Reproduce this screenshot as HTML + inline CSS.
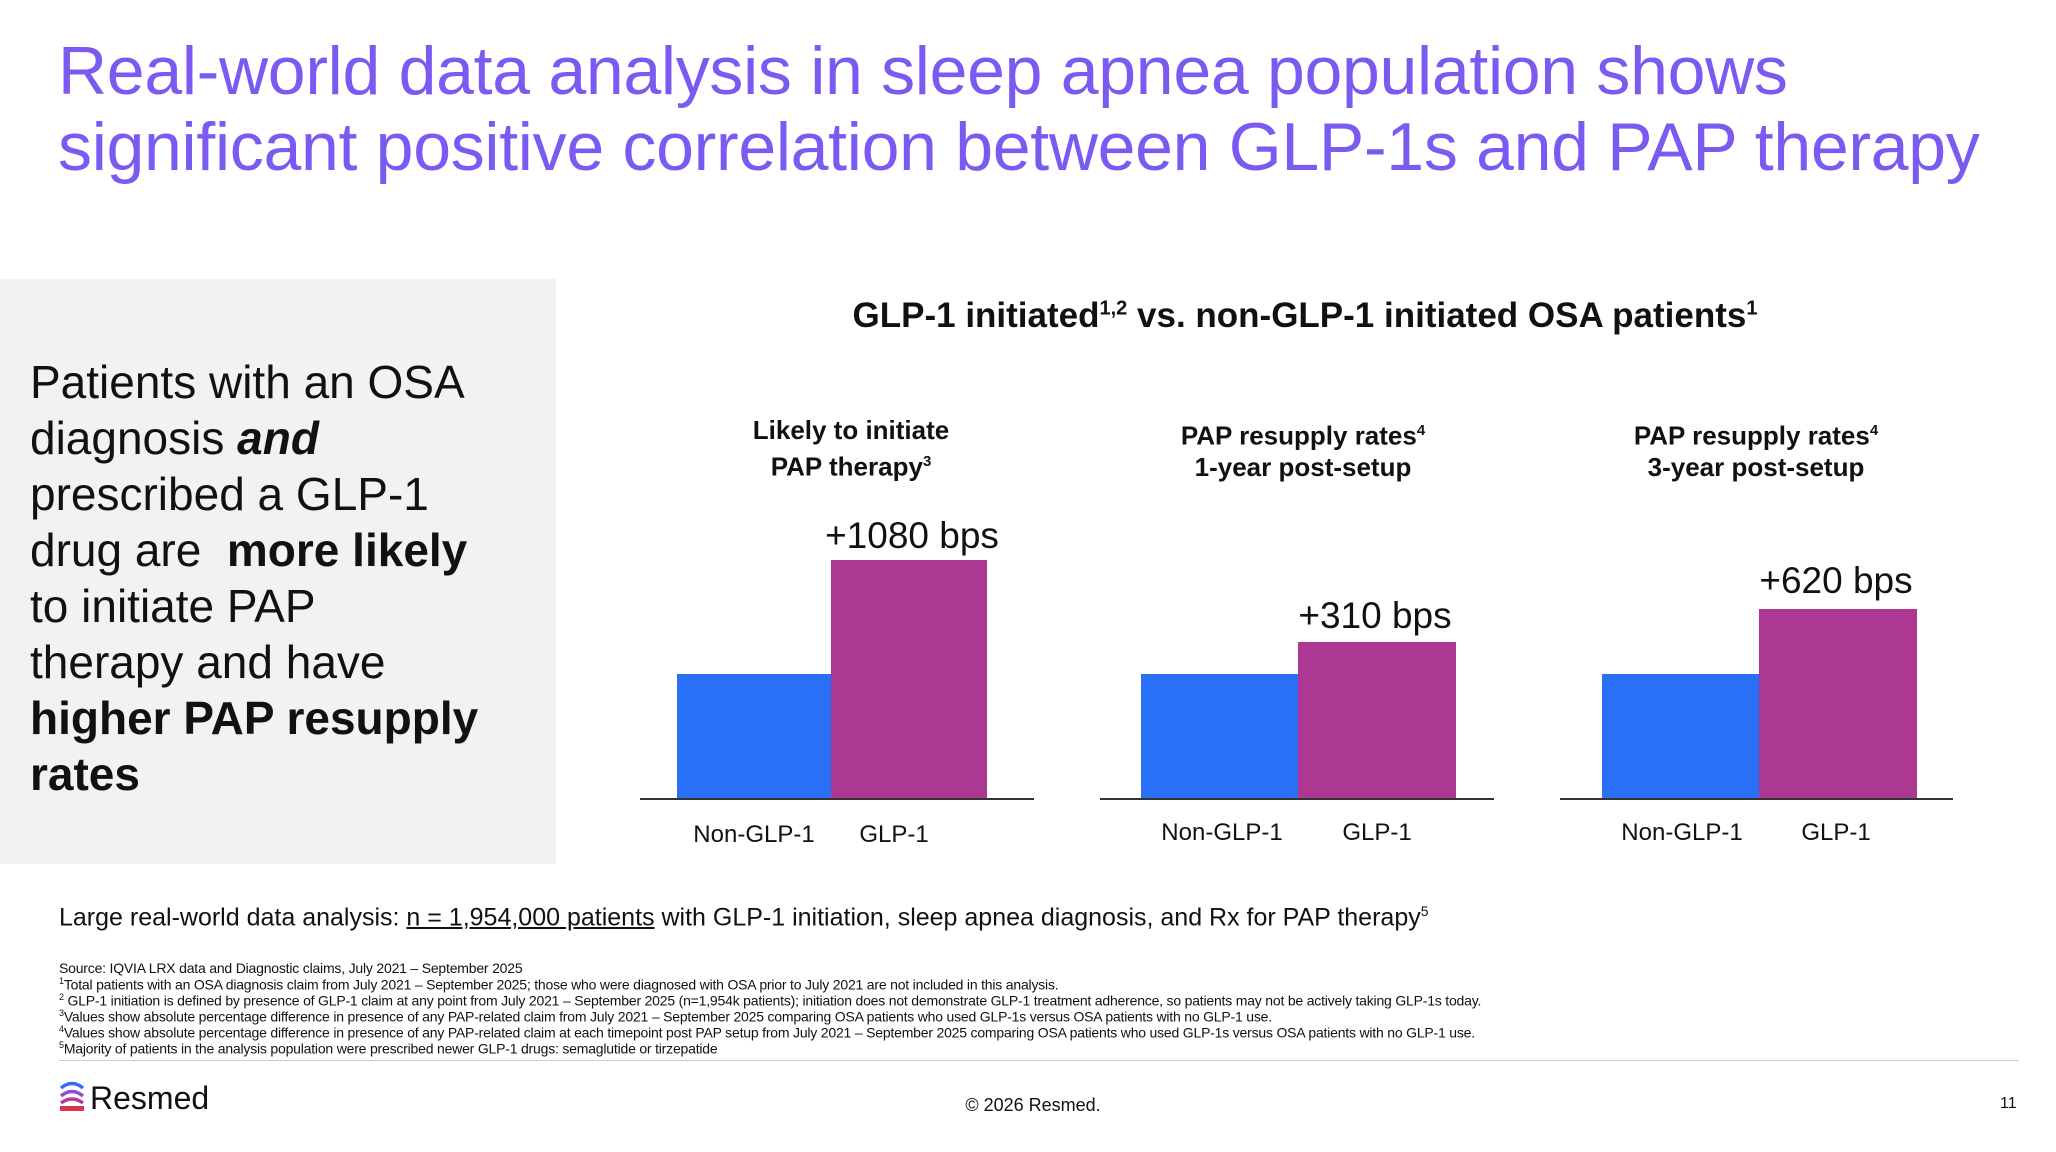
<!DOCTYPE html>
<html><head><meta charset="utf-8"><style>
body{margin:0;width:2056px;height:1152px;background:#fff;position:relative;overflow:hidden;font-family:"Liberation Sans",sans-serif;color:#111}
div{position:absolute}
.t{color:#7a5af0;font-size:68px;left:58px;white-space:nowrap;letter-spacing:-0.3px}
.c{transform:translateX(-50%);white-space:nowrap;text-align:center}
.bar{position:absolute}
.bl{background:#2870f5}.mg{background:#ad3894}
.ax{height:2px;background:#333;top:798px}
.sub{font-weight:bold;font-size:26px;line-height:31px;top:415px}
.val{font-size:37px;line-height:40px}
.cat{font-size:24px;top:821px}
.fn{font-size:14px;left:59px;white-space:nowrap;letter-spacing:-0.2px}
</style></head><body>
<div class="t" style="top:32px">Real-world data analysis in sleep apnea population shows</div>
<div class="t" style="top:108px">significant positive correlation between GLP-1s and PAP therapy</div>

<div style="left:0;top:279px;width:556px;height:585px;background:#f2f2f2"></div>
<div style="left:30px;top:354px;font-size:46px;line-height:56px;width:520px">Patients with an OSA<br>diagnosis <b><i>and</i></b><br>prescribed a GLP-1<br>drug are &nbsp;<b>more likely</b><br>to initiate PAP<br>therapy and have<br><b>higher PAP resupply<br>rates</b></div>

<div class="c" style="left:1305px;top:296px;font-size:35px;font-weight:bold">GLP-1 initiated<sup style="font-size:20px">1,2</sup> vs. non-GLP-1 initiated OSA patients<sup style="font-size:20px">1</sup></div>

<div class="c sub" style="left:851px">Likely to initiate<br>PAP therapy<sup style="font-size:15px">3</sup></div>
<div class="c sub" style="left:1303px">PAP resupply rates<sup style="font-size:15px">4</sup><br>1-year post-setup</div>
<div class="c sub" style="left:1756px">PAP resupply rates<sup style="font-size:15px">4</sup><br>3-year post-setup</div>

<div class="bar bl" style="left:677px;top:674px;width:154px;height:125px"></div>
<div class="bar mg" style="left:831px;top:560px;width:156px;height:239px"></div>
<div class="ax" style="left:640px;width:394px"></div>
<div class="c val" style="left:912px;top:516px">+1080 bps</div>
<div class="c cat" style="left:754px">Non-GLP-1</div>
<div class="c cat" style="left:894px">GLP-1</div>

<div class="bar bl" style="left:1141px;top:674px;width:157px;height:125px"></div>
<div class="bar mg" style="left:1298px;top:642px;width:158px;height:157px"></div>
<div class="ax" style="left:1100px;width:394px"></div>
<div class="c val" style="left:1375px;top:596px">+310 bps</div>
<div class="c cat" style="left:1222px;top:819px">Non-GLP-1</div>
<div class="c cat" style="left:1377px;top:819px">GLP-1</div>

<div class="bar bl" style="left:1602px;top:674px;width:157px;height:125px"></div>
<div class="bar mg" style="left:1759px;top:609px;width:158px;height:190px"></div>
<div class="ax" style="left:1560px;width:393px"></div>
<div class="c val" style="left:1836px;top:561px">+620 bps</div>
<div class="c cat" style="left:1682px;top:819px">Non-GLP-1</div>
<div class="c cat" style="left:1836px;top:819px">GLP-1</div>

<div style="left:59px;top:903px;font-size:25px;white-space:nowrap">Large real-world data analysis: <u>n = 1,954,000 patients</u> with GLP-1 initiation, sleep apnea diagnosis, and Rx for PAP therapy<sup style="font-size:14px">5</sup></div>

<div class="fn" style="top:960px">Source: IQVIA LRX data and Diagnostic claims, July 2021 – September 2025</div>
<div class="fn" style="top:976px"><sup style="font-size:9px">1</sup>Total patients with an OSA diagnosis claim from July 2021 – September 2025; those who were diagnosed with OSA prior to July 2021 are not included in this analysis.</div>
<div class="fn" style="top:992px"><sup style="font-size:9px">2</sup> GLP-1 initiation is defined by presence of GLP-1 claim at any point from July 2021 – September 2025 (n=1,954k patients); initiation does not demonstrate GLP-1 treatment adherence, so patients may not be actively taking GLP-1s today.</div>
<div class="fn" style="top:1008px"><sup style="font-size:9px">3</sup>Values show absolute percentage difference in presence of any PAP-related claim from July 2021 – September 2025 comparing OSA patients who used GLP-1s versus OSA patients with no GLP-1 use.</div>
<div class="fn" style="top:1024px"><sup style="font-size:9px">4</sup>Values show absolute percentage difference in presence of any PAP-related claim at each timepoint post PAP setup from July 2021 – September 2025 comparing OSA patients who used GLP-1s versus OSA patients with no GLP-1 use.</div>
<div class="fn" style="top:1040px"><sup style="font-size:9px">5</sup>Majority of patients in the analysis population were prescribed newer GLP-1 drugs: semaglutide or tirzepatide</div>
<div style="left:59px;top:1060px;width:1960px;height:1px;background:#ccc"></div>

<svg style="position:absolute;left:59px;top:1079px" width="26" height="32" viewBox="0 0 26 32">
<path d="M2 9 Q13 0 24 9" stroke="#3a6cf2" stroke-width="3.5" fill="none"/>
<path d="M2 17 Q13 8 24 17" stroke="#8a4ed8" stroke-width="3.5" fill="none"/>
<path d="M2 24 Q13 16 24 24" stroke="#b43c98" stroke-width="3.5" fill="none"/>
<rect x="1" y="27" width="24" height="5" fill="#d8344e"/>
</svg>
<div style="left:90px;top:1080px;font-size:32px;color:#111">Resmed</div>
<div class="c" style="left:1033px;top:1095px;font-size:18px">© 2026 Resmed.</div>
<div style="left:2000px;top:1095px;font-size:16px">11</div>
</body></html>
